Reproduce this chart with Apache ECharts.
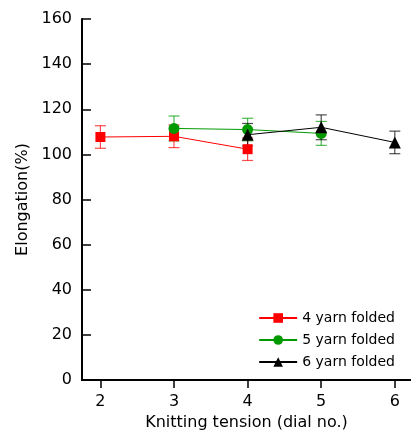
<!DOCTYPE html>
<html>
<head>
<meta charset="utf-8">
<script src="https://cdn.jsdelivr.net/npm/echarts@6/dist/echarts.min.js"></script>
<style>
  html, body { margin: 0; padding: 0; background: #fff; }
  #main { width: 411px; height: 437px; }
</style>
</head>
<body>
<div id="main"></div>
<script>
  // tension dial numbers and elongation means / error (+-)
  var xTicks = [2, 3, 4, 5, 6];
  var names = ['4 yarn folded', '5 yarn folded', '6 yarn folded'];
  var tension4 = [2, 3, 4];
  var elong4 = [107.7, 108, 102.3];
  var err4 = [5, 5, 5];
  var tension5 = [3, 4, 5];
  var elong5 = [111.5, 111, 109.3];
  var err5 = [5.5, 5, 5.3];
  var tension6 = [4, 5, 6];
  var elong6 = [108.7, 112, 105.3];
  var err6 = [5, 5.5, 5];
  var colors = ['#ff0000', '#009a00', '#000000'];
  var symbols = ['rect', 'circle', 'triangle'];
  var symbolSizes = [10, 11, 12];

  var groups = [[tension4, elong4, err4], [tension5, elong5, err5], [tension6, elong6, err6]];
  var font = 'DejaVu Sans, Liberation Sans, Arial, sans-serif';

  var series = [];
  groups.forEach(function (g, i) {
    var bars = g[0].map(function (x, k) { return [x, g[1][k] - g[2][k], g[1][k] + g[2][k]]; });
    series.push({
      type: 'custom',
      name: names[i] + ' err',
      z: 2 + i,
      data: bars,
      renderItem: function (params, api) {
        var x = api.value(0);
        var lo = api.coord([x, api.value(1)]);
        var hi = api.coord([x, api.value(2)]);
        var w = 5.5;
        var st = { stroke: colors[i], lineWidth: 1.2, opacity: 0.7 };
        return {
          type: 'group',
          children: [
            { type: 'line', shape: { x1: lo[0], y1: lo[1], x2: hi[0], y2: hi[1] }, style: st },
            { type: 'line', shape: { x1: lo[0] - w, y1: lo[1], x2: lo[0] + w, y2: lo[1] }, style: st },
            { type: 'line', shape: { x1: hi[0] - w, y1: hi[1], x2: hi[0] + w, y2: hi[1] }, style: st }
          ]
        };
      }
    });
  });
  groups.forEach(function (g, i) {
    series.push({
      type: 'line',
      name: names[i],
      z: 10 + i,
      data: g[0].map(function (x, k) { return [x, g[1][k]]; }),
      symbol: symbols[i],
      symbolSize: symbolSizes[i],
      showAllSymbol: true,
      itemStyle: { color: colors[i] },
      lineStyle: { color: colors[i], width: 1 }
    });
  });

  var chart = echarts.init(document.getElementById('main'));
  chart.setOption({
    animation: false,
    textStyle: { fontFamily: font },
    grid: { left: 82, top: 19, right: 0, bottom: 57 },
    legend: {
      data: names,
      orient: 'vertical',
      right: 11,
      top: 306,
      itemGap: 8,
      itemWidth: 38,
      itemHeight: 12,
      textStyle: { fontSize: 14, color: '#000', fontFamily: font }
    },
    xAxis: [{
      type: 'value',
      min: 1.75,
      max: 6.22,
      name: 'Knitting tension (dial no.)',
      nameLocation: 'middle',
      nameGap: 32,
      nameTextStyle: { fontSize: 16, color: '#000' },
      splitLine: { show: false },
      axisLine: { onZero: false, lineStyle: { color: '#000', width: 2 } },
      axisTick: { customValues: xTicks, length: 8, lineStyle: { color: '#000', width: 1.5 } },
      axisLabel: { customValues: xTicks, fontSize: 16, color: '#000', margin: 14 }
    }, {
      type: 'value',
      position: 'top',
      min: 1.75,
      max: 6.22,
      splitLine: { show: false },
      axisLine: { show: true, lineStyle: { color: '#000', width: 2 } },
      axisTick: { show: false },
      axisLabel: { show: false }
    }],
    yAxis: {
      type: 'value',
      min: 0,
      max: 160,
      interval: 20,
      name: 'Elongation(%)',
      nameLocation: 'middle',
      nameGap: 50,
      nameTextStyle: { fontSize: 16, color: '#000' },
      splitLine: { show: false },
      axisLine: { show: true, lineStyle: { color: '#000', width: 2 } },
      axisTick: { inside: true, length: 9, lineStyle: { color: '#000', width: 1.5 } },
      axisLabel: { fontSize: 16, color: '#000', margin: 10 }
    },
    series: series
  });
</script>
</body>
</html>
